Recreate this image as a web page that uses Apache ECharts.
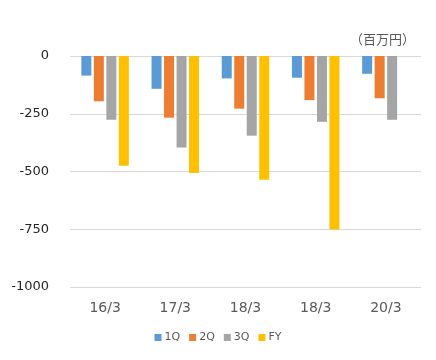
<!DOCTYPE html>
<html><head><meta charset="utf-8">
<script src="https://cdn.jsdelivr.net/npm/echarts@6/dist/echarts.min.js"></script>
<style>html,body{margin:0;padding:0;background:#fff}#c{width:436px;height:360px}</style>
</head><body><div id="c"></div>
<script>
const categories = ['16/3', '17/3', '18/3', '18/3', '20/3'];
const seriesNames = ['1Q', '2Q', '3Q', 'FY'];
const q1 = [-85, -142, -97, -94, -77];
const q2 = [-196, -267, -228, -191, -183];
const q3 = [-276, -396, -345, -285, -276];
const fy = [-475, -507, -536, -751, null];
const yTicks = [0, -250, -500, -750, -1000];
const unitLabel = '（百万円）';

const colors = ['#5B9BD5', '#ED7D31', '#A5A5A5', '#FFC000'];
const values = [q1, q2, q3, fy];
const font = '"DejaVu Sans", "Noto Sans CJK JP", sans-serif';
const cjk = '"Noto Sans CJK JP", sans-serif';
const chart = echarts.init(document.getElementById('c'), null, {renderer: 'canvas'});
chart.setOption({
  animation: false,
  color: colors,
  textStyle: {fontFamily: font},
  grid: {left: 70, right: 15, top: 56, bottom: 73},
  title: {text: unitLabel, right: 16, top: 28, textStyle: {fontSize: 13, fontWeight: 'normal', color: '#595959', fontFamily: cjk}},
  legend: {
    bottom: 12, left: 'center', itemWidth: 7, itemHeight: 7, itemGap: 9,
    icon: 'rect',
    textStyle: {fontSize: 11, color: '#595959', fontFamily: font, padding: [0, 0, 0, -2]},
    data: seriesNames
  },
  xAxis: {
    type: 'category', data: categories, position: 'bottom',
    axisLine: {show: false}, axisTick: {show: false},
    axisLabel: {fontSize: 14, color: '#595959', margin: 14, fontFamily: font}
  },
  yAxis: {
    type: 'value', min: -1000, max: 0, interval: 250,
    axisLine: {show: false}, axisTick: {show: false},
    splitLine: {lineStyle: {color: '#d9d9d9', width: 1}},
    axisLabel: {fontSize: 13, color: '#262626', margin: 21, fontFamily: font,
      formatter: v => yTicks.includes(v) ? String(v) : ''}
  },
  series: seriesNames.map((n, i) => ({
    name: n, type: 'bar', data: values[i], barWidth: 10, barGap: '25%'
  }))
});
</script></body></html>
